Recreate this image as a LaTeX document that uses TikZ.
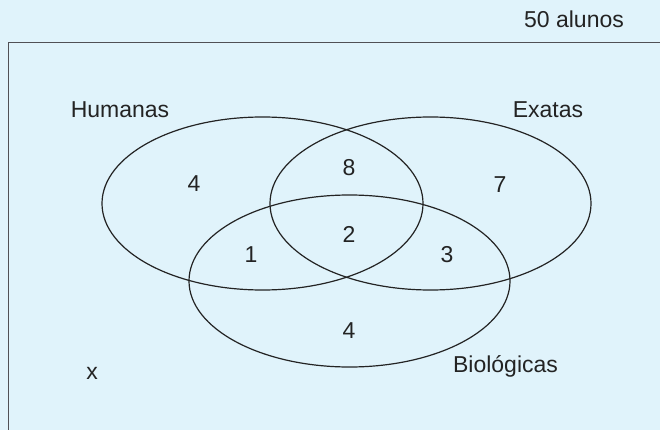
\documentclass[tikz,border=0pt]{standalone}
\usepackage{fontspec}
\setmainfont{Liberation Sans}
\definecolor{bgblue}{RGB}{224,243,251}
\definecolor{inkc}{RGB}{35,35,35}
\definecolor{framec}{RGB}{80,80,85}
\begin{document}
\begin{tikzpicture}[x=1pt,y=-1pt,
  setline/.style={draw=inkc,line width=1.2pt},
  lbl/.style={anchor=base,inner sep=0pt,text=inkc,font=\fontsize{23}{27}\selectfont}]
\fill[bgblue] (0,0) rectangle (660,430);
\useasboundingbox (0,0) rectangle (660,430);
% universe frame (open to right and bottom)
\coordinate (fbl) at (8.5,430);
\coordinate (ftl) at (8.5,42.7);
\coordinate (ftr) at (660,42.7);
\draw[framec,line width=1.6pt] (fbl) -- (ftl) -- (ftr);
% sets
\draw[setline] (262.5,203.5) ellipse [x radius=160.5,y radius=86.5];
\draw[setline] (430.5,203.5) ellipse [x radius=160.5,y radius=86.5];
\draw[setline] (349.5,281) ellipse [x radius=160.5,y radius=86];
% labels
\node[lbl] (total) at (574,27.5) {50 alunos};
\node[lbl] (hum) at (120,117.7) {Humanas};
\node[lbl] (exa) at (548,118) {Exatas};
\node[lbl] (bio) at (505.5,372.5) {Biológicas};
\node[lbl] (h) at (194,192) {4};
\node[lbl] (he) at (349,176) {8};
\node[lbl] (e) at (500,193) {7};
\node[lbl] (hb) at (251,262) {1};
\node[lbl] (heb) at (349,242) {2};
\node[lbl] (eb) at (447,262) {3};
\node[lbl] (b) at (349,338) {4};
\node[lbl] (none) at (92,379) {x};
\end{tikzpicture}
\end{document}
